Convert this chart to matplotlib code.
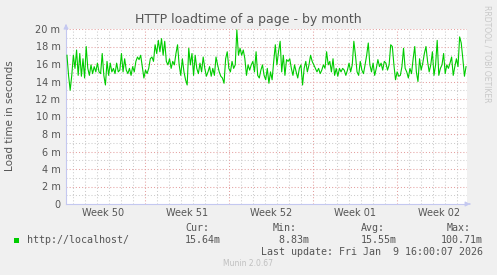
import numpy as np
import matplotlib
matplotlib.use('Agg')
import matplotlib.pyplot as plt

# --- Data (load time in milliseconds) ---
loadtime = [
    17.0, 14.7, 13.0, 14.7, 17.0, 15.5, 17.6, 14.7, 17.2, 14.6, 16.6, 14.4, 18.0, 15.5, 14.7, 15.9,
    14.9, 15.7, 15.1, 16.1, 15.1, 14.9, 17.2, 14.7, 13.6, 16.3, 14.7, 16.1, 15.1, 15.5, 14.9, 16.1,
    15.1, 15.3, 17.2, 15.1, 16.6, 15.3, 14.9, 15.5, 14.7, 15.7, 15.1, 16.3, 16.8, 16.5, 17.0, 15.7,
    14.4, 15.3, 14.9, 15.5, 16.6, 16.8, 16.3, 18.2, 17.2, 18.7, 17.4, 18.9, 17.0, 18.6, 16.3, 15.9,
    16.6, 15.5, 16.3, 15.9,
    17.2, 18.2, 15.9, 14.7, 16.6, 15.1, 14.2, 13.6, 17.8, 15.9, 17.2, 14.7, 17.0, 15.5, 14.9, 16.1,
    15.1, 16.8, 15.5, 14.6, 15.1, 15.7, 14.6, 15.5, 14.7, 16.8, 15.9, 15.1, 14.6, 14.4, 13.8, 16.6,
    17.4, 15.5, 15.1, 16.3, 15.5, 15.9, 19.9, 17.0, 17.8, 17.0, 17.6, 16.6, 14.7, 15.9, 15.3, 15.9,
    16.3, 15.1, 17.4, 14.7, 14.4,
    15.3, 15.9, 14.7, 14.2, 15.5, 13.8, 15.1, 14.2, 16.3, 18.2, 15.9, 17.4, 18.6, 15.1, 17.0, 14.7,
    16.5, 16.3, 16.6, 15.5, 14.7, 15.9, 15.1, 14.4, 15.5, 15.9, 13.6, 15.5, 16.3, 15.1, 15.9, 17.0,
    16.3, 15.9, 15.5, 15.1, 15.5, 14.9, 15.3, 15.9, 15.5, 17.4, 15.9, 16.3, 15.1, 16.6, 14.7, 15.5,
    14.6, 15.5, 15.1, 15.5, 15.3,
    14.7, 15.3, 16.1, 15.1, 15.9, 18.6, 17.0, 15.1, 14.7, 16.3, 15.3, 14.9, 15.9, 17.0, 18.4, 15.9,
    15.1, 16.1, 14.7, 15.5, 16.5, 15.7, 16.1, 15.3, 16.3,
    16.1, 15.3, 15.9, 18.2, 18.0, 15.9, 14.2, 15.1, 14.6, 14.7, 15.7, 17.8, 15.5, 15.1, 14.4, 15.5,
    14.9, 16.6, 18.0, 15.1, 14.0, 16.6, 15.3, 16.1, 17.2, 18.0, 16.3, 15.1, 15.9, 17.4, 14.7, 15.9,
    18.7, 14.7, 15.5, 15.9, 17.2, 14.9, 15.9, 15.5, 16.1, 16.8, 14.7, 15.7, 16.6, 15.7, 19.1, 18.4,
    16.6, 14.6, 15.7,
]

week_labels = ['Week 50', 'Week 51', 'Week 52', 'Week 01', 'Week 02']
ytick_values = list(range(0, 21, 2))
ytick_labels = ['0', '2 m', '4 m', '6 m', '8 m', '10 m', '12 m', '14 m', '16 m', '18 m', '20 m']

legend_name = 'http://localhost/'
stat_heads = ['Cur:', 'Min:', 'Avg:', 'Max:']
stat_values = ['15.64m', ' 8.83m', '15.55m', '100.71m']
last_update = 'Last update: Fri Jan  9 16:00:07 2026'

# time axis in days since Mon Dec 8 (start of week 50)
t_start, t_end = 0.5, 33.75
x_min, x_max = 0.42, 33.83
t = np.linspace(t_start, t_end, len(loadtime))

# --- Colours ---
bg = '#F0F0F0'
txt = '#555555'
axis_col = '#C4C8F0'
mgrid = '#E4A0A0'
grid = '#CCCCCC'
line_col = '#00CC00'

W, H = 497, 275
fig = plt.figure(figsize=(W / 100, H / 100), dpi=100, facecolor=bg)
ax = fig.add_axes([66 / W, 71 / H, 401 / W, 175 / H])
ax.set_facecolor('white')

ax.set_xlim(x_min, x_max)
ax.set_ylim(0, 20)

# --- Grid ---
for d in range(1, 34):
    if d % 7 == 0:
        continue
    ax.axvline(d, color=grid, lw=0.75, ls=(0, (1, 2)), zorder=1)
for v in range(1, 21, 2):
    ax.axhline(v, color=grid, lw=0.75, ls=(0, (1, 2)), zorder=1)
for d in (7, 14, 21, 28):
    ax.axvline(d, color=mgrid, lw=0.75, ls=(0, (1, 2)), zorder=1)
for v in range(2, 21, 2):
    ax.axhline(v, color=mgrid, lw=0.75, ls=(0, (1, 2)), zorder=1)

# --- Data line ---
ax.plot(t, loadtime, color=line_col, lw=0.8, zorder=3)

# --- Axes styling ---
for s in ('top', 'right'):
    ax.spines[s].set_visible(False)
for s in ('left', 'bottom'):
    ax.spines[s].set_color(axis_col)
    ax.spines[s].set_linewidth(0.8)

ax.set_yticks(ytick_values)
ax.set_yticklabels(ytick_labels)
ax.set_xticks([3.5, 10.5, 17.5, 24.5, 31.5])
ax.set_xticklabels(week_labels)
ax.tick_params(axis='both', length=0, labelsize=7, colors=txt, pad=4)
ax.tick_params(axis='x', pad=3)

# arrows on the axes
ax.annotate('', xy=(0, 1.045), xytext=(0, 1.0), xycoords='axes fraction',
            arrowprops=dict(arrowstyle='-|>', color=axis_col, lw=0.8, mutation_scale=7),
            annotation_clip=False)
ax.annotate('', xy=(1.015, 0), xytext=(1.0, 0), xycoords='axes fraction',
            arrowprops=dict(arrowstyle='-|>', color=axis_col, lw=0.8, mutation_scale=7),
            annotation_clip=False)

# --- Titles and labels ---
fig.text(248 / W, 1 - 19 / H, 'HTTP loadtime of a page - by month', ha='center', va='center',
         fontsize=9, color=txt)
fig.text(10 / W, 1 - 116 / H, 'Load time in seconds', rotation=90, ha='center', va='center',
         fontsize=7.5, color=txt)
fig.text(487 / W, 1 - 5 / H, 'RRDTOOL / TOBI OETIKER', rotation=270, ha='center', va='top',
         fontsize=5.5, color='#C8C8C8')

# --- Legend ---
mono = 'DejaVu Sans Mono'
fig.patches.append(plt.Rectangle((14 / W, 1 - 243 / H), 5 / W, 5 / H, transform=fig.transFigure,
                                 facecolor=line_col, edgecolor='none'))
fig.text(27 / W, 1 - 240 / H, legend_name, family=mono, fontsize=7.2, color=txt, va='center')

head_x = [185, 273, 361, 447]
val_x = [185, 273, 361, 441]
for hx, h in zip(head_x, stat_heads):
    fig.text(hx / W, 1 - 228 / H, h, family=mono, fontsize=7.2, color=txt, va='center')
for vx, v in zip(val_x, stat_values):
    fig.text(vx / W, 1 - 240 / H, v, family=mono, fontsize=7.2, color=txt, va='center')
fig.text(483 / W, 1 - 252 / H, last_update, family=mono, fontsize=7.2, color=txt,
         va='center', ha='right')
fig.text(248 / W, 1 - 264 / H, 'Munin 2.0.67', ha='center', va='center', fontsize=5.5,
         color='#C0C0C0')

fig.savefig('out.png', dpi=100, facecolor=bg)
